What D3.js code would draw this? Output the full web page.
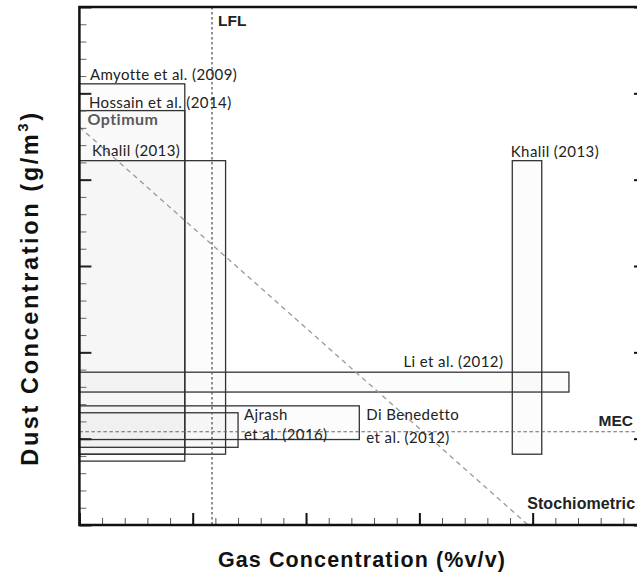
<!DOCTYPE html>
<html>
<head>
<meta charset="utf-8">
<script src="https://cdn.jsdelivr.net/npm/d3@7"></script>
<style>
  html, body { margin: 0; padding: 0; background: #fff; }
  svg { display: block; }
</style>
</head>
<body>
<svg id="chart" width="637" height="577"></svg>
<script>
// Study ranges: gas concentration span (x) and dust concentration span (y), in axis units
const studies   = ["Amyotte et al. (2009)", "Hossain et al. (2014)", "Khalil (2013)", "Khalil (2013)", "Li et al. (2012)", "Di Benedetto et al. (2012)", "Ajrash et al. (2016)"];
const gasLow    = [0.00, 0.00, 0.00, 3.82, 0.00, 0.00, 0.00];
const gasHigh   = [0.93, 0.93, 1.29, 4.08, 4.32, 2.47, 1.40];
const dustLow   = [0.74, 0.82, 0.82, 0.82, 1.54, 0.99, 0.90];
const dustHigh  = [5.11, 4.80, 4.22, 4.22, 1.77, 1.38, 1.30];

// Reference limits
const lfl = 1.17;               // lower flammability limit of the gas
const mec = 1.08;               // minimum explosible concentration of the dust
const optimumDust = 4.61;       // dust-only optimum (gas = 0)
const stoichGas = 3.96;         // gas-only stoichiometric point (dust = 0)

// Axis extents and tick steps
const xMax = 5, yMax = 6;
const minorStep = 0.2;

const svg = d3.select("#chart");
const x = d3.scaleLinear().domain([0, xMax]).range([79.4, 646]);
const y = d3.scaleLinear().domain([0, yMax]).range([525, 7]);

const labelFont = "Lato, 'Open Sans', sans-serif";
const boldFont = "'Liberation Sans', Arial, sans-serif";

// Study boxes
const boxes = studies.map((s, i) => ({ s, x0: gasLow[i], x1: gasHigh[i], y0: dustLow[i], y1: dustHigh[i] }));
svg.append("g").selectAll("rect").data(boxes).join("rect")
  .attr("x", d => x(d.x0))
  .attr("y", d => y(d.y1))
  .attr("width", d => x(d.x1) - x(d.x0))
  .attr("height", d => y(d.y0) - y(d.y1))
  .attr("fill", "#000").attr("fill-opacity", 0.01)
  .attr("stroke", "#333").attr("stroke-width", 1.3);

// LFL (vertical dotted), MEC (horizontal dashed), optimum-stoichiometric line (diagonal dashed)
svg.append("line")
  .attr("x1", x(lfl)).attr("x2", x(lfl)).attr("y1", y(yMax)).attr("y2", y(0))
  .attr("stroke", "#555").attr("stroke-width", 1.3).attr("stroke-dasharray", "2.5,2.5");
svg.append("line")
  .attr("x1", x(0)).attr("x2", x(xMax)).attr("y1", y(mec)).attr("y2", y(mec))
  .attr("stroke", "#666").attr("stroke-width", 1.1).attr("stroke-dasharray", "3.5,2.5");
svg.append("line")
  .attr("x1", x(0)).attr("y1", y(optimumDust)).attr("x2", x(stoichGas)).attr("y2", y(0))
  .attr("stroke", "#999").attr("stroke-width", 1.3).attr("stroke-dasharray", "5,4");

// Axes: minor and major ticks pointing into the plot
const xMinor = d3.range(0, xMax + 1e-9, minorStep);
const yMinor = d3.range(0, yMax + 1e-9, minorStep);
const xMajor = d3.range(0, xMax + 1);
const yMajor = d3.range(0, yMax + 1);

function styleAxis(g, col, w) {
  g.select(".domain").remove();
  g.selectAll("line").attr("stroke", col).attr("stroke-width", w);
  g.selectAll("text").remove();
}
svg.append("g").attr("transform", `translate(0,${y(0)})`)
  .call(d3.axisBottom(x).tickValues(xMinor).tickSize(-7).tickFormat(""))
  .call(g => styleAxis(g, "#555", 1));
svg.append("g").attr("transform", `translate(0,${y(0)})`)
  .call(d3.axisBottom(x).tickValues(xMajor).tickSize(-12).tickFormat(""))
  .call(g => styleAxis(g, "#111", 2));
svg.append("g").attr("transform", `translate(${x(0)},0)`)
  .call(d3.axisLeft(y).tickValues(yMinor).tickSize(-7).tickFormat(""))
  .call(g => styleAxis(g, "#666", 1));
svg.append("g").attr("transform", `translate(${x(0)},0)`)
  .call(d3.axisLeft(y).tickValues(yMajor).tickSize(-12).tickFormat(""))
  .call(g => styleAxis(g, "#222", 2));
svg.append("g").attr("transform", `translate(${x(xMax)},0)`)
  .call(d3.axisRight(y).tickValues(yMajor).tickSize(-12).tickFormat(""))
  .call(g => styleAxis(g, "#111", 2));

// Frame
svg.append("rect")
  .attr("x", x(0)).attr("y", y(yMax))
  .attr("width", x(xMax) - x(0)).attr("height", y(0) - y(yMax))
  .attr("fill", "none").attr("stroke", "#111").attr("stroke-width", 2.5);

// Study labels
function label(txt, px, py, opts = {}) {
  return svg.append("text")
    .attr("x", px).attr("y", py)
    .attr("font-family", opts.bold ? boldFont : labelFont)
    .attr("font-size", opts.size || 15)
    .attr("letter-spacing", opts.ls != null ? opts.ls : 0.4)
    .attr("font-weight", opts.weight || (opts.bold ? "bold" : "normal"))
    .attr("fill", opts.fill || "#222")
    .attr("text-anchor", opts.anchor || "start")
    .text(txt);
}
const b = boxes;
label("Amyotte et al. (2009)", x(b[0].x0) + 10.5, y(b[0].y1) - 4);
label("Hossain et al. (2014)", x(b[1].x0) + 9.5, y(b[1].y1) - 3);
label("Khalil (2013)", x(b[2].x0) + 12.5, y(b[2].y1) - 5);
label("Khalil (2013)", x(b[3].x0) - 1.5, y(b[3].y1) - 4);
label("Li et al. (2012)", x(2.86), y(b[4].y1) - 5);
label("Ajrash", x(b[6].x1) + 6, y(b[6].y1) + 7);
label("et al. (2016)", x(b[6].x1) + 6, y(b[6].y1) + 27);
label("Di Benedetto", x(b[5].x1) + 7, y(b[5].y1) + 14);
label("et al. (2012)", x(b[5].x1) + 7, y(b[5].y0) + 3);
label("Optimum", x(0) + 8, y(optimumDust) - 2, { weight: "bold", fill: "#595959", size: 16, ls: 0.5 });

// Reference line labels
label("LFL", x(lfl) + 6, 26, { bold: true, size: 15.5, ls: 0 });
label("MEC", 633, y(mec) - 6, { bold: true, size: 15.5, ls: 0, anchor: "end" });
label("Stochiometric", x(stoichGas) - 1, y(0) - 16, { bold: true, size: 16, ls: 0.1 });

// Axis titles
svg.append("text")
  .attr("x", 362).attr("y", 567)
  .attr("text-anchor", "middle")
  .attr("font-family", boldFont).attr("font-weight", "bold").attr("font-size", 21.5)
  .attr("letter-spacing", 1.1)
  .attr("fill", "#111")
  .text("Gas Concentration (%v/v)");
const yt = svg.append("text")
  .attr("transform", "translate(38,288) rotate(-90)")
  .attr("text-anchor", "middle")
  .attr("font-family", boldFont).attr("font-weight", "bold").attr("font-size", 23.5)
  .attr("letter-spacing", 2.6)
  .attr("fill", "#111");
yt.append("tspan").text("Dust Concentration (g/m");
yt.append("tspan").attr("font-size", 15).attr("dy", -10).text("3");
yt.append("tspan").attr("dy", 10).text(")");
</script>
</body>
</html>
